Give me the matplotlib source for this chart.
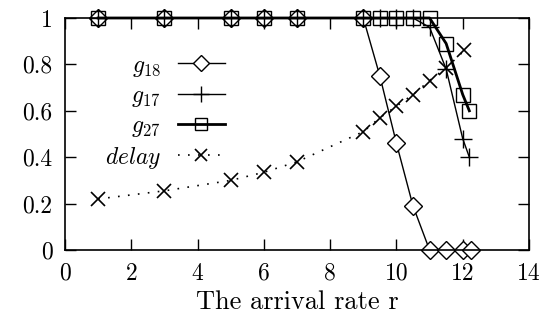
import matplotlib
matplotlib.use("Agg")
import matplotlib.pyplot as plt

plt.rcParams['mathtext.fontset'] = 'cm'
plt.rcParams['font.family'] = ['cmr10', 'DejaVu Serif']
plt.rcParams['axes.formatter.use_mathtext'] = True

# data
x_g18 = [1, 3, 5, 6, 7, 9, 9.5, 10, 10.5, 11, 11.5, 12, 12.25]
y_g18 = [1, 1, 1, 1, 1, 1, 0.75, 0.46, 0.19, 0, 0, 0, 0]

x_g17 = [1, 3, 5, 6, 7, 9, 9.5, 10, 10.5, 11, 11.5, 12, 12.2]
y_g17 = [1, 1, 1, 1, 1, 1, 1, 1, 1, 0.96, 0.78, 0.48, 0.40]

x_g27 = [1, 3, 5, 6, 7, 9, 9.5, 10, 10.5, 11, 11.5, 12, 12.2]
y_g27 = [1, 1, 1, 1, 1, 1, 1, 1, 1, 1, 0.89, 0.67, 0.60]

x_delay = [1, 3, 5, 6, 7, 9, 9.5, 10, 10.5, 11, 11.5, 12.05]
y_delay = [0.22, 0.255, 0.30, 0.335, 0.38, 0.51, 0.57, 0.62, 0.67, 0.73, 0.785, 0.86]

xticks = [0, 2, 4, 6, 8, 10, 12, 14]
yticks = [0, 0.2, 0.4, 0.6, 0.8, 1]
ytick_labels = ['0', '0.2', '0.4', '0.6', '0.8', '1']

fig = plt.figure(figsize=(5.52, 3.21), dpi=100)
ax = fig.add_axes([65/552, 1 - 250/321, (529-65)/552, (250-18)/321])

ax.plot(x_g18, y_g18, color='black', lw=1.0, marker='D', ms=9, mfc='white',
        mec='black', mew=1.0, label=r'$g_{18}$', clip_on=False)
ax.plot(x_g17, y_g17, color='black', lw=1.0, marker='+', ms=13, mew=1.0,
        label=r'$g_{17}$', clip_on=False)
ax.plot(x_g27, y_g27, color='black', lw=2.0, marker='s', ms=10, mfc='none',
        mec='black', mew=1.0, label=r'$g_{27}$', clip_on=False)
ax.plot(x_delay, y_delay, color='black', lw=1.2, ls=(0, (1, 5)), marker='x',
        ms=10, mew=1.2, label=r'$delay$', clip_on=False)

ax.set_xlim(0, 14)
ax.set_ylim(0, 1)
ax.set_xticks(xticks)
ax.set_xticklabels([str(t) for t in xticks])
ax.set_yticks(yticks)
ax.set_yticklabels(ytick_labels)
ax.tick_params(direction='in', length=8, width=1, top=True, right=True,
               labelsize=17, pad=9)
for s in ax.spines.values():
    s.set_linewidth(1.2)

ax.set_xlabel('The arrival rate r', fontsize=19, labelpad=4)

leg = ax.legend(loc='upper left', bbox_to_anchor=(0.06, 0.893), frameon=False,
                markerfirst=False, fontsize=17, handlelength=2.0,
                labelspacing=0.25, borderpad=0, handletextpad=0.7,
                markerscale=0.85)
for t in leg.get_texts():
    t.set_ha('right')

fig.savefig('out.png', dpi=100)
